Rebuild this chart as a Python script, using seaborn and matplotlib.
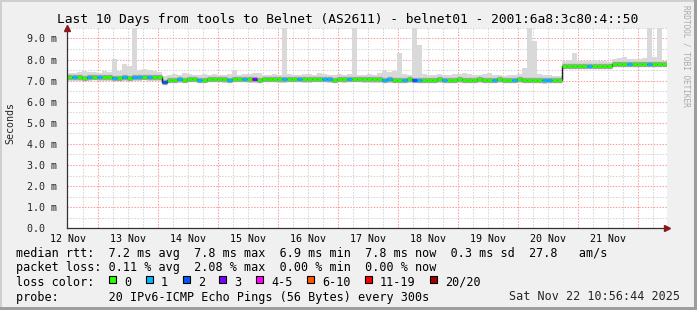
import numpy as np
import pandas as pd
import matplotlib
matplotlib.use("Agg")
import matplotlib.pyplot as plt
from matplotlib.patches import Rectangle
import seaborn as sns

# ---------------- data (2-hour bins, 10 days) ----------------
median_ms = [
    7.18, 7.17, 7.15, 7.12, 7.18, 7.19, 7.17, 7.16, 7.15, 7.14,
    7.13, 7.15, 7.14, 7.16, 7.17, 7.18, 7.17, 7.18, 7.16, 6.95,
    7.05, 7.04, 7.06, 7.05, 7.07, 7.06, 7.05, 7.04, 7.06, 7.08,
    7.07, 7.06, 7.05, 7.06, 7.07, 7.08, 7.07, 7.06, 7.05, 7.07,
    7.08, 7.07, 7.06, 7.07, 7.08, 7.09, 7.08, 7.07, 7.06, 7.07,
    7.08, 7.07, 7.06, 7.05, 7.06, 7.07, 7.08, 7.07, 7.06, 7.07,
    7.08, 7.07, 7.06, 7.05, 7.06, 7.04, 7.03, 7.05, 7.06, 7.05,
    7.04, 7.03, 7.04, 7.05, 7.06, 7.05, 7.04, 7.05, 7.06, 7.05,
    7.04, 7.05, 7.06, 7.05, 7.04, 7.05, 7.06, 7.05, 7.04, 7.05,
    7.06, 7.05, 7.04, 7.03, 7.04, 7.02, 7.03, 7.04, 7.05, 7.70,
    7.71, 7.70, 7.69, 7.70, 7.71, 7.70, 7.69, 7.68, 7.68, 7.80,
    7.81, 7.80, 7.79, 7.80, 7.81, 7.80, 7.79, 7.80, 7.81, 7.80,
]
smoke_hi = [
    7.35, 7.38, 7.40, 7.45, 7.42, 7.40, 7.38, 7.45, 7.40, 8.05,
    7.45, 7.80, 7.70, 12.0, 7.50, 7.55, 7.50, 7.45, 7.40, 7.20,
    7.25, 7.30, 7.28, 7.35, 7.30, 7.25, 7.28, 7.30, 7.25, 7.30,
    7.28, 7.25, 7.30, 7.50, 7.28, 7.30, 7.32, 7.35, 7.35, 7.28,
    7.25, 7.30, 7.28, 12.0, 7.30, 7.25, 7.28, 7.30, 7.32, 7.28,
    7.35, 7.30, 7.28, 7.25, 7.30, 7.28, 7.30, 12.0, 7.28, 7.25,
    7.30, 7.28, 7.35, 7.50, 7.40, 7.45, 8.30, 7.30, 7.28, 12.0,
    8.70, 7.30, 7.25, 7.28, 7.30, 7.25, 7.28, 7.30, 7.32, 7.35,
    7.30, 7.28, 7.25, 7.30, 7.35, 7.28, 7.25, 7.22, 7.25, 7.28,
    7.30, 7.60, 12.0, 8.90, 7.30, 7.25, 7.28, 7.22, 7.20, 7.95,
    7.98, 8.30, 7.95, 7.92, 7.95, 7.98, 7.95, 7.92, 7.90, 8.05,
    8.08, 8.10, 8.05, 8.02, 8.05, 8.08, 12.0, 8.10, 12.0, 7.95,
]
smoke_lo = [
    7.00, 6.98, 7.00, 6.97, 7.00, 7.02, 7.00, 6.98, 7.00, 6.99,
    6.98, 7.00, 6.99, 6.98, 7.00, 7.01, 7.00, 6.99, 7.00, 6.82,
    6.90, 6.92, 6.91, 6.90, 6.92, 6.93, 6.91, 6.90, 6.92, 6.93,
    6.92, 6.91, 6.90, 6.92, 6.93, 6.92, 6.91, 6.88, 6.90, 6.92,
    6.93, 6.92, 6.91, 6.90, 6.92, 6.93, 6.92, 6.91, 6.90, 6.92,
    6.93, 6.92, 6.91, 6.90, 6.92, 6.91, 6.92, 6.93, 6.92, 6.91,
    6.90, 6.89, 6.90, 6.92, 6.91, 6.89, 6.88, 6.90, 6.91, 6.88,
    6.89, 6.90, 6.91, 6.90, 6.89, 6.88, 6.90, 6.91, 6.90, 6.89,
    6.90, 6.91, 6.90, 6.89, 6.88, 6.90, 6.91, 6.90, 6.89, 6.88,
    6.90, 6.89, 6.88, 6.87, 6.89, 6.86, 6.87, 6.88, 6.90, 7.58,
    7.58, 7.57, 7.58, 7.56, 7.57, 7.58, 7.57, 7.56, 7.55, 7.66,
    7.66, 7.67, 7.66, 7.65, 7.66, 7.67, 7.66, 7.65, 7.66, 7.67,
]
loss_pings = [
    0, 1, 0, 0, 1, 0, 1, 0, 0, 1,
    0, 1, 0, 1, 1, 0, 1, 0, 0, 2,
    0, 0, 1, 0, 0, 0, 1, 0, 0, 0,
    0, 0, 1, 0, 0, 1, 0, 3, 0, 0,
    0, 0, 0, 1, 0, 0, 1, 0, 0, 0,
    0, 1, 1, 0, 0, 0, 1, 0, 0, 0,
    0, 0, 0, 1, 1, 0, 0, 1, 0, 2,
    1, 0, 0, 0, 0, 1, 0, 0, 0, 0,
    0, 0, 0, 0, 0, 1, 0, 0, 0, 1,
    0, 0, 0, 0, 0, 1, 1, 0, 0, 0,
    0, 0, 0, 0, 1, 0, 0, 0, 0, 0,
    0, 0, 1, 0, 0, 0, 1, 0, 0, 0,
]
day_labels = ["12 Nov", "13 Nov", "14 Nov", "15 Nov", "16 Nov",
              "17 Nov", "18 Nov", "19 Nov", "20 Nov", "21 Nov"]
y_labels = ["0.0  ", "1.0 m", "2.0 m", "3.0 m", "4.0 m", "5.0 m",
            "6.0 m", "7.0 m", "8.0 m", "9.0 m"]
loss_legend = ["0", "1", "2", "3", "4-5", "6-10", "11-19", "20/20"]
loss_colors = ["#26ff00", "#00b8ff", "#0059ff", "#7e00ff", "#ff00ff",
               "#ff5500", "#ff0000", "#a10000"]

title = "Last 10 Days from tools to Belnet (AS2611) - belnet01 - 2001:6a8:3c80:4::50"
line_rtt = "median rtt:  7.2 ms avg  7.8 ms max  6.9 ms min  7.8 ms now  0.3 ms sd  27.8   am/s"
line_loss = "packet loss: 0.11 % avg  2.08 % max  0.00 % min  0.00 % now"
line_probe = "probe:       20 IPv6-ICMP Echo Pings (56 Bytes) every 300s"
stamp = "Sat Nov 22 10:56:44 2025"

# ---------------- layout ----------------
W, H = 697, 310
sns.set_style("white")
plt.rcParams["font.family"] = ["DejaVu Sans Mono", "DejaVu Sans"]

fig = plt.figure(figsize=(W / 100, H / 100), dpi=100, facecolor="#f0f0f0")
L, R, T, B = 67, 667, 27.5, 228.3
ax = fig.add_axes([L / W, 1 - B / H, (R - L) / W, (B - T) / H])
ax.set_facecolor("white")

t0 = 11.6  # hours after 12 Nov 00:00 at left edge
n = len(median_ms)
edges = t0 + 2.0 * np.arange(n + 1)
starts = edges[:-1]

df = pd.DataFrame({"t": starts, "median": median_ms, "lo": smoke_lo,
                   "hi": smoke_hi, "loss": loss_pings})

# grid
for h in np.arange(18, 252, 6):
    if h % 24 == 0:
        continue
    ax.axvline(h, color="#d4d4d4", lw=0.75, ls=(0, (1.4, 1.4)), zorder=0.5)
for h in np.arange(24, 252, 24):
    ax.axvline(h, color="#ff9a9a", lw=0.75, ls=(0, (1.4, 1.4)), zorder=0.6)
for v in np.arange(0.5, 9.6, 1.0):
    ax.axhline(v, color="#d4d4d4", lw=0.75, ls=(0, (1.4, 1.4)), zorder=0.5)
for v in np.arange(1, 10, 1.0):
    ax.axhline(v, color="#ff9a9a", lw=0.75, ls=(0, (1.4, 1.4)), zorder=0.6)

# smoke
hi_ext = np.append(df["hi"].values, df["hi"].values[-1])
lo_ext = np.append(df["lo"].values, df["lo"].values[-1])
ax.fill_between(edges, lo_ext, hi_ext, step="post", color="#d9d9d9", lw=0, zorder=1)
ax.hlines(df["median"], starts, edges[1:], colors="#a0a0a0", lw=3.8, zorder=2)

# median (black step line + loss-coloured bars)
med_ext = np.append(df["median"].values, df["median"].values[-1])
sns.lineplot(x=edges, y=med_ext, drawstyle="steps-post", color="#202020",
             lw=1.0, ax=ax, zorder=3, estimator=None, sort=False)
cols = [loss_colors[min(v, 4)] for v in df["loss"]]
ax.hlines(df["median"], starts, edges[1:], colors=cols, lw=2.1, zorder=4)

ax.set_xlim(t0, t0 + 2.0 * n)
ax.set_ylim(0, 9.52)

# ticks
ax.set_xticks(12 + 24 * np.arange(len(day_labels)))
ax.set_xticklabels(day_labels)
ax.set_yticks(np.arange(len(y_labels)))
ax.set_yticklabels(y_labels)
ax.tick_params(axis="x", length=0, pad=4, labelsize=7.2, colors="#000000")
ax.tick_params(axis="y", length=3, width=0.8, direction="in", color="#ff8080",
               pad=7, labelsize=7.2)
for lab in ax.get_yticklabels() + ax.get_xticklabels():
    lab.set_fontfamily("DejaVu Sans Mono")

for s in ["top", "right"]:
    ax.spines[s].set_visible(False)
for s in ["left", "bottom"]:
    ax.spines[s].set_color("#333333")
    ax.spines[s].set_linewidth(0.9)
    ax.spines[s].set_zorder(6)

# axis arrows
ax.plot([0], [1.0], marker="^", color="#8b1a1a", ms=4.5, transform=ax.transAxes,
        clip_on=False, zorder=7)
ax.plot([1.0], [0], marker=">", color="#8b1a1a", ms=4.5, transform=ax.transAxes,
        clip_on=False, zorder=7)

# texts
def fx(px):
    return px / W

def fy(py):
    return 1 - py / H

fig.text(fx(348), fy(19), title, ha="center", va="center", fontsize=9.3,
         family="DejaVu Sans Mono", color="#000000")
fig.text(fx(10), fy(123), "Seconds", ha="center", va="center", rotation=90,
         fontsize=7.2, family="DejaVu Sans Mono")
fig.text(fx(686), fy(5), "RRDTOOL / TOBI OETIKER", ha="center", va="top",
         rotation=270, fontsize=5.6, family="DejaVu Sans Mono", color="#aaaaaa")

lg = dict(ha="left", va="center", fontsize=8.5, family="DejaVu Sans Mono",
          color="#000000")
fig.text(fx(16), fy(253), line_rtt, **lg)
fig.text(fx(16), fy(268), line_loss, **lg)
fig.text(fx(16), fy(282), "loss color:", **lg)
fig.text(fx(16), fy(297), line_probe, **lg)
fig.text(fx(680), fy(297), stamp, ha="right", va="center", fontsize=8.5,
         family="DejaVu Sans Mono")

sq_x = [109, 146, 183, 219, 256, 307, 365, 430]
for x0, lab, c in zip(sq_x, loss_legend, loss_colors):
    fig.patches.append(Rectangle((fx(x0), fy(283)), 7 / W, 7 / H, facecolor=c,
                                 edgecolor="#000000", lw=0.8,
                                 transform=fig.transFigure, figure=fig))
    fig.text(fx(x0 + 15), fy(282), lab, **lg)

# frame
frame = [((0, 0), W, 2, "#cfcfcf"), ((0, 0), 2, H, "#cfcfcf"),
         ((W - 3, 0), 3, H, "#9d9d9d"), ((0, H - 3), W, 3, "#9d9d9d")]
for (x0, y0), w, h, c in frame:
    fig.patches.append(Rectangle((fx(x0), fy(y0 + h)), w / W, h / H, facecolor=c,
                                 edgecolor="none", transform=fig.transFigure,
                                 figure=fig))

fig.savefig("out.png", dpi=100, facecolor=fig.get_facecolor())
